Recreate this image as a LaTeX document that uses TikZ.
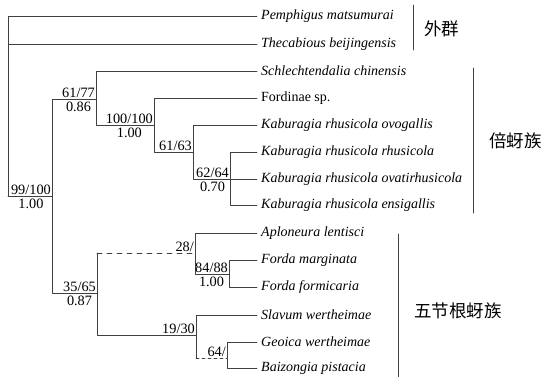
\documentclass[tikz,border=0pt]{standalone}
\usepackage{fontspec}
\setmainfont{Liberation Serif}
\newfontfamily\cjk{Noto Sans CJK SC}
\usetikzlibrary{positioning}

\begin{document}
\begin{tikzpicture}[x=1pt,y=-1pt,line join=round,line cap=round,
		br/.style={draw=black!75,line width=.8pt},
		taxon/.style={anchor=west,inner xsep=4pt,inner ysep=0pt,font=\fontsize{14}{14}\selectfont\itshape},
		bs/.style={anchor=south east,inner xsep=1pt,inner ysep=1.5pt,font=\fontsize{14.3}{14.3}\selectfont},
		pp/.style={anchor=north,inner xsep=1pt,inner ysep=1.5pt,yshift=-1pt,font=\fontsize{14.3}{14.3}\selectfont},
		clade/.style={anchor=west,inner sep=0pt,font=\cjk\fontsize{17.5}{17.5}\selectfont}]
	\useasboundingbox (0,0) rectangle (542,377);
	\def\xt{257}
	\foreach \n/\y/\name in {t1/16/Pemphigus matsumurai,t2/44/Thecabious beijingensis,
		t3/71/Schlechtendalia chinensis,t4/98/{\upshape Fordinae sp.},
		t5/125/Kaburagia rhusicola ovogallis,t6/152/Kaburagia rhusicola rhusicola,
		t7/179/Kaburagia rhusicola ovatirhusicola,t8/205/Kaburagia rhusicola ensigallis,
		t9/233/Aploneura lentisci,t10/260/Forda marginata,t11/287/Forda formicaria,
		t12/315/Slavum wertheimae,t13/342/Geoica wertheimae,t14/368/Baizongia pistacia}
		\node[taxon] (\n) at (\xt,\y) {\name};
	\coordinate (R) at (8,196);
	\coordinate (nA) at (52,196);
	\coordinate (nB) at (96,99);
	\coordinate (nC) at (154,125);
	\coordinate (nD) at (193,152);
	\coordinate (nE) at (230,179);
	\coordinate (nF) at (97,293);
	\coordinate (nG) at (195,253);
	\coordinate (nI) at (229,274);
	\coordinate (nH) at (196,335);
	\coordinate (nJ) at (227,358);
	% tree
	\draw[br] (R) |- (t1.west);
	\draw[br] (R) |- (t2.west);
	\draw[br] (R) -- (nA);
	\draw[br] (nA) |- (nB);
	\draw[br] (nA) |- (nF);
	\draw[br] (nB) |- (t3.west);
	\draw[br] (nB) |- (nC);
	\draw[br] (nC) |- (t4.west);
	\draw[br] (nC) |- (nD);
	\draw[br] (nD) |- (t5.west);
	\draw[br] (nD) |- (nE);
	\foreach \t in {t6,t7,t8} \draw[br] (nE) |- (\t.west);
	\draw[br] (nF) -- (nF |- nG);
	\draw[br,dash pattern=on 5pt off 5pt] (nF |- nG) -- (nG);
	\draw[br] (nF) |- (nH);
	\draw[br] (nG) |- (t9.west);
	\draw[br] (nG) |- (nI);
	\draw[br] (nI) |- (t10.west);
	\draw[br] (nI) |- (t11.west);
	\draw[br] (nH) |- (t12.west);
	\draw[br] (nH) -- (nH |- nJ);
	\draw[br,dash pattern=on 3pt off 3pt] (nH |- nJ) -- (nJ);
	\draw[br] (nJ) |- (t13.west);
	\draw[br] (nJ) |- (t14.west);
	% support values
	\node[bs] (sA) at (nA) {99/100};
	\node[pp] at (sA.south) {1.00};
	\node[bs] (sB) at (nB) {61/77};
	\node[pp] at (sB.south) {0.86};
	\node[bs] (sC) at (nC) {100/100};
	\node[pp] at (sC.south) {1.00};
	\node[bs] (sD) at (nD) {61/63};
	\node[bs] (sE) at (nE) {62/64};
	\node[pp] at (sE.south) {0.70};
	\node[bs] (sF) at (nF) {35/65};
	\node[pp] at (sF.south) {0.87};
	\node[bs] (sG) at (nG) {28/};
	\node[bs] (sI) at (nI) {84/88};
	\node[pp] at (sI.south) {1.00};
	\node[bs] (sH) at (nH) {19/30};
	\node[bs] (sJ) at (nJ) {64/};
	% groups
	\coordinate (b1) at (413,5);
	\coordinate (b2) at (473,68);
	\coordinate (b3) at (398,234);
	\draw[br] (b1) -- ++(0,45) coordinate (b1e);
	\draw[br] (b2) -- ++(0,145) coordinate (b2e);
	\draw[br] (b3) -- ++(0,143) coordinate (b3e);
	\node[clade] (g1) at (424,29) {外群};
	\node[clade] (g2) at (489,141) {倍蚜族};
	\node[clade] (g3) at (414,311) {五节根蚜族};
\end{tikzpicture}
\end{document}
